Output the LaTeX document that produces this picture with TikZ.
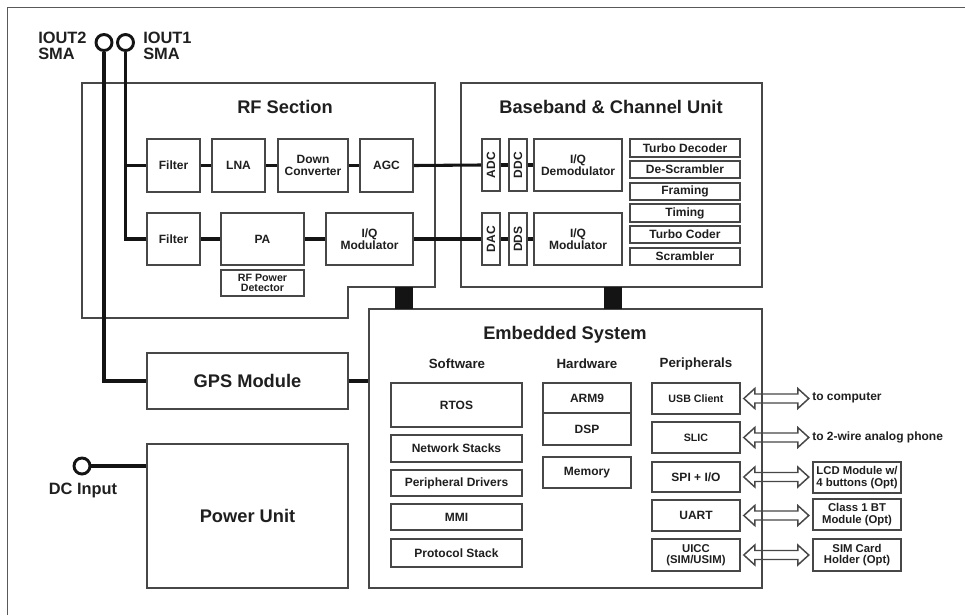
\documentclass[tikz,border=0pt]{standalone}
\usepackage{fontspec}
\setmainfont{Liberation Sans}
\begin{document}
\begin{tikzpicture}[x=0.75pt,y=-0.75pt,
  frame/.style={draw=black!72,line width=1.2pt,fill=white,inner sep=0pt},
  box/.style={draw=black!72,line width=1.2pt,fill=white,inner sep=1pt,align=center,text=black!88,font=\bfseries\fontsize{9}{10}\selectfont},
  sm/.style={font=\bfseries\fontsize{8}{8.6}\selectfont},
  smb/.style={font=\bfseries\fontsize{8.5}{9.4}\selectfont},
  big/.style={font=\bfseries\fontsize{13.7}{16}\selectfont},
  conn/.style={line width=2.3pt,black!92},
  ttl/.style={font=\bfseries\fontsize{13.7}{16}\selectfont,text=black!88,inner sep=0pt},
  sub/.style={font=\bfseries\fontsize{10}{12}\selectfont,text=black!88,inner sep=0pt},
  lbl/.style={font=\bfseries\fontsize{12.3}{12}\selectfont,text=black!88,inner sep=0pt,align=left},
  note/.style={font=\bfseries\fontsize{9}{11}\selectfont,text=black!88,inner sep=0pt,anchor=west},
  jack/.style={circle,draw=black!92,line width=2.2pt,minimum size=12pt,inner sep=0pt},
  bus/.style={fill=black!92,inner sep=0pt,minimum width=13.5pt,minimum height=16.5pt},
  darr/.style={draw=black!72,line width=1.1pt,line join=miter}]
\newcommand\bx[7]{\node[box,#6,minimum width={(#4-#2)*0.75pt},minimum height={(#5-#3)*0.75pt}] (#1) at ({(#2+#4)/2},{(#3+#5)/2}) {#7};}
\newcommand\dar[1]{\draw[darr] (#1) ++(3,0) -- ++(11,-10) -- ++(0,5.5) -- ++(43,0) -- ++(0,-5.5) -- ++(11,10) -- ++(-11,10) -- ++(0,-5.5) -- ++(-43,0) -- ++(0,5.5) -- cycle;}
\useasboundingbox (0,0) rectangle (965,615);
% outer frame (top and left only)
\draw[draw=black!65,line width=1pt] (7.5,615) -- (7.5,7.5) -- (965,7.5);
% section frames
\draw[frame] (82,83) -- (435,83) -- (435,287) -- (348,287) -- (348,318) -- (82,318) -- cycle;
\node[frame,minimum width={(762-461)*0.75pt},minimum height={(287-83)*0.75pt}] (bb) at ({(461+762)/2},{(83+287)/2}) {};
\node[frame,minimum width={(762-369)*0.75pt},minimum height={(588-309)*0.75pt}] (emb) at ({(369+762)/2},{(309+588)/2}) {};
% buses
\node[bus] (bus1) at (404,298) {};
\node[bus] (bus2) at (613,298) {};
% titles
\node[ttl] (rft) at (285,107) {RF Section};
\node[ttl] (bbt) at (611,107) {Baseband \& Channel Unit};
\node[ttl] (embt) at (565,335) {Embedded System};
\node[sub] (swt) at (457,364) {Software};
\node[sub] (hwt) at (587,364) {Hardware};
\node[sub] (pht) at (696,364) {Peripherals};
% RF section
\bx{f1}{147}{139}{200}{192}{}{Filter}
\bx{lna}{212}{139}{265}{192}{}{LNA}
\bx{dcv}{278}{139}{348}{192}{}{Down\\[-1pt]Converter}
\bx{agc}{360}{139}{413}{192}{}{AGC}
\bx{f2}{147}{213}{200}{265}{}{Filter}
\bx{pa}{221}{213}{304}{265}{}{PA}
\bx{rfpd}{221}{270}{304}{296}{sm}{RF Power\\[-1pt]Detector}
\bx{iqm}{326}{213}{413}{265}{}{I/Q\\[-1pt]Modulator}
% Baseband
\bx{adc}{482}{139}{500}{191}{inner sep=0pt}{\rotatebox{90}{ADC}}
\bx{ddc}{509}{139}{527}{191}{inner sep=0pt}{\rotatebox{90}{DDC}}
\bx{iqd}{534}{139}{622}{191}{}{I/Q\\[-1pt]Demodulator}
\bx{dac}{482}{213}{500}{265}{inner sep=0pt}{\rotatebox{90}{DAC}}
\bx{dds}{509}{213}{527}{265}{inner sep=0pt}{\rotatebox{90}{DDS}}
\bx{iqm2}{534}{213}{622}{265}{}{I/Q\\[-1pt]Modulator}
\bx{td}{630}{139}{740}{157}{inner sep=0pt}{Turbo Decoder}
\bx{dsc}{630}{161}{740}{178}{inner sep=0pt}{De-Scrambler}
\bx{frm}{630}{183}{740}{200}{inner sep=0pt}{Framing}
\bx{tim}{630}{204}{740}{222}{inner sep=0pt}{Timing}
\bx{tcd}{630}{226}{740}{243}{inner sep=0pt}{Turbo Coder}
\bx{scr}{630}{248}{740}{265}{inner sep=0pt}{Scrambler}
% GPS & power
\bx{gps}{147}{353}{348}{409}{big}{GPS Module}
\bx{pwr}{147}{444}{348}{588}{big}{Power Unit}
% Embedded: software
\bx{rtos}{391}{383}{522}{427}{}{RTOS}
\bx{net}{391}{435}{522}{462}{}{Network Stacks}
\bx{pdrv}{391}{470}{522}{496}{}{Peripheral Drivers}
\bx{mmi}{391}{504}{522}{530}{}{MMI}
\bx{proto}{391}{539}{522}{567}{}{Protocol Stack}
% hardware
\bx{arm}{543}{383}{631}{413}{}{ARM9}
\bx{dsp}{543}{413}{631}{445}{}{DSP}
\bx{mem}{543}{457}{631}{488}{}{Memory}
% peripherals
\bx{usb}{652}{383}{740}{414}{sm}{USB Client}
\bx{slic}{652}{422}{740}{453}{sm}{SLIC}
\bx{spi}{652}{462}{740}{492}{}{SPI + I/O}
\bx{uart}{652}{500}{740}{531}{}{UART}
\bx{uicc}{652}{539}{740}{571}{smb}{UICC\\[-1pt](SIM/USIM)}
% external
\bx{lcd}{813}{462}{901}{493}{smb}{LCD Module w/\\[-1pt]4 buttons (Opt)}
\bx{bt}{813}{499}{901}{530}{smb}{Class 1 BT\\[-1pt]Module (Opt)}
\bx{sim}{813}{539}{901}{571}{smb}{SIM Card\\[-1pt]Holder (Opt)}
\node[note] (tocomp) at (812,398) {to computer};
\node[note] (tophone) at (812,437) {to 2-wire analog phone};
% double arrows
\dar{usb.east}
\dar{slic.east}
\dar{spi.east}
\dar{uart.east}
\dar{uicc.east}
% jacks
\node[jack] (io2) at (104,42.5) {};
\node[jack] (io1) at (125.5,42.5) {};
\node[jack] (dcin) at (82,466) {};
\node[lbl,anchor=north west] (io2t) at (38,32) {IOUT2\\SMA};
\node[lbl,anchor=north west] (io1t) at (143,32) {IOUT1\\SMA};
\node[lbl,font=\bfseries\fontsize{12.3}{14}\selectfont] (dct) at (83,490) {DC Input};
% connectors
\draw[conn] (io2.south) |- (gps.west);
\draw[conn] (io1.south) |- (f2.west);
\draw[conn] (io1.south |- f1.west) -- (f1.west);
\draw[conn] (f1) -- (lna);
\draw[conn] (lna) -- (dcv);
\draw[conn] (dcv) -- (agc);
\draw[conn] (agc.east) -- (adc.west);
\draw[conn] (adc) -- (ddc);
\draw[conn] (ddc) -- (iqd);
\draw[conn] (f2) -- (pa);
\draw[conn] (pa) -- (iqm);
\draw[conn] (iqm.east) -- (dac.west);
\draw[conn] (dac) -- (dds);
\draw[conn] (dds) -- (iqm2);
\draw[conn] (gps.east) -- (gps.east -| emb.west);
\draw[conn] (dcin.east) -- (dcin.east -| pwr.west);
\end{tikzpicture}
\end{document}
